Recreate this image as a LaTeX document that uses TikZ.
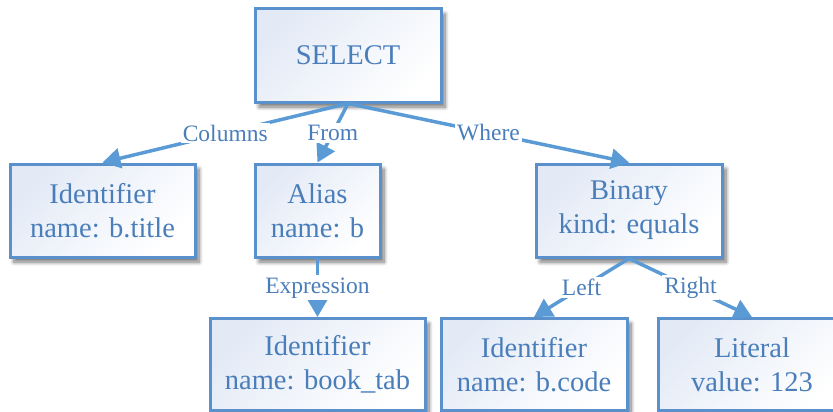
\documentclass[tikz,border=0pt]{standalone}
\usepackage{fontspec}
\setmainfont{Liberation Serif}
\usetikzlibrary{arrows.meta,shadows.blur}
\definecolor{txtblue}{HTML}{4A7EBB}
\definecolor{lineblue}{HTML}{5B9BD5}
\definecolor{boxline}{HTML}{5A90CC}
\definecolor{boxfill}{HTML}{E3EAF6}
\tikzset{
  box/.style={draw=boxline, line width=3pt, inner sep=0pt,
    top color=boxfill, bottom color=white, shading angle=45,
    minimum height=93pt, align=center, text=txtblue,
    font=\fontsize{28.5}{34}\selectfont,
    blur shadow={shadow xshift=4pt, shadow yshift=-5pt, shadow opacity=55, shadow blur steps=8, shadow blur radius=4pt}},
  conn/.style={draw=lineblue, line width=3.5pt,
    -{Triangle[length=18pt,width=20pt]}},
  lab/.style={fill=white, inner sep=2pt, text=txtblue,
    font=\fontsize{23.5}{26}\selectfont}
}
\begin{document}
\begin{tikzpicture}[x=1pt,y=-1pt]
\useasboundingbox (0,0) rectangle (833,412);
\node[box, minimum width=186pt] (select) at (348,55.5) {SELECT};
\node[box, minimum width=185pt] (id1) at (102.5,210.5) {Identifier\\name: b.title};
\node[box, minimum width=125pt] (alias) at (317.5,210.5) {Alias\\name: b};
\node[box, minimum width=186pt] (binary) at (629,210.5) {Binary\\kind: equals};
\node[box, minimum width=215pt, minimum height=92pt] (id2) at (317.5,364.5) {Identifier\\name: book\_tab};
\node[box, minimum width=186pt, minimum height=92pt] (id3) at (534,364.5) {Identifier\\name: b.code};
\node[box, minimum width=188pt, minimum height=92pt] (lit) at (752,364.5) {Literal\\value: 123};

\draw[conn] (select.south) -- node[lab] {Columns} (id1.north);
\draw[conn] (select.south) -- node[lab] {From} (alias.north);
\draw[conn] (select.south) -- node[lab] {Where} (binary.north);
\draw[conn] (alias.south) -- node[lab] {Expression} (id2.north);
\draw[conn] (binary.south) -- node[lab] {Left} (id3.north);
\draw[conn] (binary.south) -- node[lab] {Right} (lit.north);
\end{tikzpicture}
\end{document}
